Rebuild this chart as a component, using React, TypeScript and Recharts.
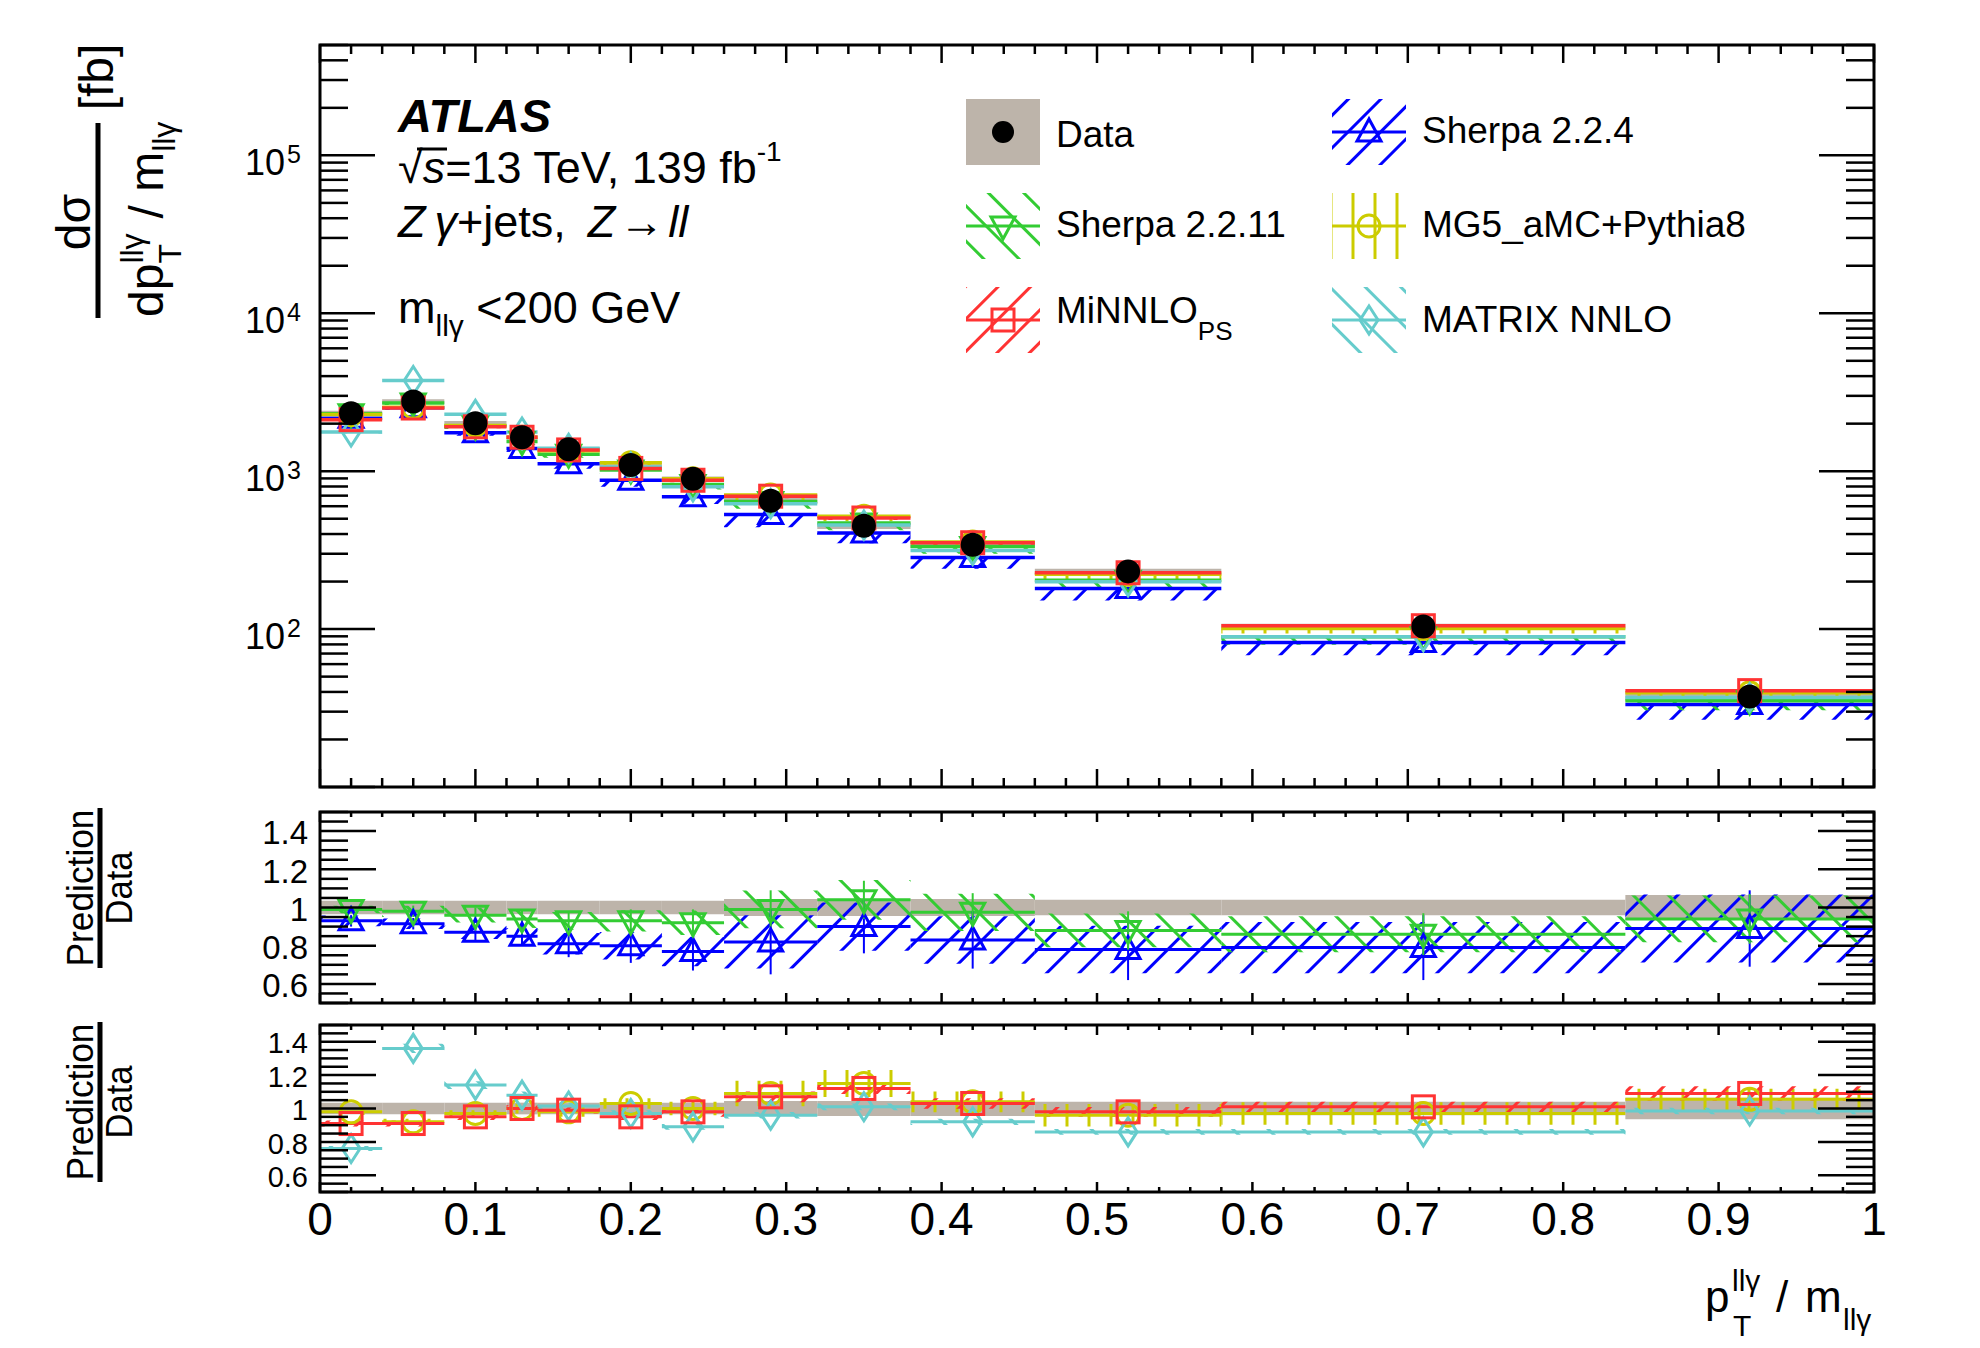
import React from 'react';
import { ComposedChart, XAxis, YAxis, Line, Scatter, ReferenceArea, ErrorBar } from 'recharts';

// ---------------- data ----------------
const binLow = [0, 0.04, 0.08, 0.12, 0.14, 0.18, 0.22, 0.26, 0.32, 0.38, 0.46, 0.58, 0.84];
const binHigh = [0.04, 0.08, 0.12, 0.14, 0.18, 0.22, 0.26, 0.32, 0.38, 0.46, 0.58, 0.84, 1.0];
const binCentre = [0.02, 0.06, 0.1, 0.13, 0.16, 0.2, 0.24, 0.29, 0.35, 0.42, 0.52, 0.71, 0.92];

const dataXsec = [2330, 2760, 2010, 1640, 1377, 1096, 894, 649, 451, 342, 232, 104, 37.4];
const dataRelUnc = [0.035, 0.035, 0.035, 0.035, 0.035, 0.035, 0.035, 0.045, 0.045, 0.045, 0.04, 0.04, 0.065];

const ratioSherpa224 = [0.93, 0.915, 0.87, 0.85, 0.81, 0.8, 0.77, 0.82, 0.9, 0.83, 0.78, 0.79, 0.89];
const uncSherpa224 = [0.03, 0.03, 0.04, 0.05, 0.07, 0.09, 0.1, 0.17, 0.14, 0.15, 0.16, 0.17, 0.2];
const ratioSherpa2211 = [0.99, 0.98, 0.96, 0.94, 0.93, 0.93, 0.92, 0.99, 1.04, 0.975, 0.88, 0.86, 0.94];
const uncSherpa2211 = [0.02, 0.03, 0.04, 0.05, 0.05, 0.06, 0.07, 0.1, 0.1, 0.1, 0.1, 0.11, 0.13];
const ratioMG5 = [0.98, 0.92, 0.97, 1.0, 0.98, 1.03, 1.0, 1.09, 1.15, 1.04, 0.96, 0.97, 1.055];
const uncMG5 = [0.02, 0.02, 0.02, 0.03, 0.03, 0.03, 0.04, 0.07, 0.07, 0.06, 0.07, 0.07, 0.06];
const ratioMiNNLO = [0.91, 0.91, 0.95, 1.0, 0.99, 0.95, 0.98, 1.07, 1.12, 1.03, 0.98, 1.01, 1.09];
const uncMiNNLO = [0.02, 0.02, 0.02, 0.02, 0.02, 0.02, 0.03, 0.03, 0.03, 0.03, 0.03, 0.03, 0.04];
const ratioMatrix = [0.76, 1.36, 1.14, 1.08, 1.015, 0.97, 0.89, 0.96, 1.01, 0.92, 0.86, 0.86, 0.985];
const uncMatrix = [0.02, 0.02, 0.02, 0.02, 0.02, 0.02, 0.02, 0.02, 0.02, 0.02, 0.02, 0.02, 0.02];

// tick values and labels
const xTickValues = Array.from({ length: 51 }, (_, i) => Math.round(i * 2) / 100);
const xTickLabels: Record<string, string> = {
  '0.00': '0', '0.10': '0.1', '0.20': '0.2', '0.30': '0.3', '0.40': '0.4', '0.50': '0.5',
  '0.60': '0.6', '0.70': '0.7', '0.80': '0.8', '0.90': '0.9', '1.00': '1',
};
const logDecades = [10, 100, 1000, 10000, 100000];
const logTickValues = logDecades.flatMap((d) => [1, 2, 3, 4, 5, 6, 7, 8, 9].map((k) => d * k)).filter((v) => v <= 500000);
const logTickLabels: Record<string, string> = { '100': '2', '1000': '3', '10000': '4', '100000': '5' };
const ratioTickValues = Array.from({ length: 21 }, (_, i) => Math.round(50 + i * 5) / 100);
const ratioTickLabels: Record<string, string> = { '0.60': '0.6', '0.80': '0.8', '1.00': '1', '1.20': '1.2', '1.40': '1.4' };

// ---------------- style ----------------
const FONT = '"Liberation Sans", Arial, Helvetica, sans-serif';
const BLUE = '#0000ff';
const GREEN = '#33cc33';
const RED = '#ff3333';
const YELLOW = '#cccc00';
const CYAN = '#66cccc';
const GREY = '#bdb4aa';

const PL = 320; // plot left
const PR = 1874; // plot right
const PW = PR - PL;

type Series = { name: string; color: string; ratio: number[]; unc: number[]; pattern: string; marker: string };
const sherpa224: Series = { name: 'Sherpa 2.2.4', color: BLUE, ratio: ratioSherpa224, unc: uncSherpa224, pattern: 'hatchBlue', marker: 'triUp' };
const sherpa2211: Series = { name: 'Sherpa 2.2.11', color: GREEN, ratio: ratioSherpa2211, unc: uncSherpa2211, pattern: 'hatchGreen', marker: 'triDown' };
const mg5: Series = { name: 'MG5_aMC+Pythia8', color: YELLOW, ratio: ratioMG5, unc: uncMG5, pattern: 'hatchYellow', marker: 'circle' };
const minnlo: Series = { name: 'MiNNLO', color: RED, ratio: ratioMiNNLO, unc: uncMiNNLO, pattern: 'hatchRed', marker: 'square' };
const matrix: Series = { name: 'MATRIX NNLO', color: CYAN, ratio: ratioMatrix, unc: uncMatrix, pattern: 'hatchCyan', marker: 'diamond' };

function renderMarker(kind: string, cx: number, cy: number, color: string) {
  const sw = 3;
  if (cx == null || cy == null || isNaN(cx) || isNaN(cy)) return <g />;
  switch (kind) {
    case 'triUp':
      return <polygon points={`${cx},${cy - 13} ${cx - 12},${cy + 9} ${cx + 12},${cy + 9}`} fill="none" stroke={color} strokeWidth={sw} />;
    case 'triDown':
      return <polygon points={`${cx},${cy + 13} ${cx - 12},${cy - 9} ${cx + 12},${cy - 9}`} fill="none" stroke={color} strokeWidth={sw} />;
    case 'square':
      return <rect x={cx - 11} y={cy - 11} width={22} height={22} fill="none" stroke={color} strokeWidth={sw} />;
    case 'circle':
      return <circle cx={cx} cy={cy} r={11} fill="none" stroke={color} strokeWidth={sw} />;
    case 'diamond':
      return <polygon points={`${cx},${cy - 14} ${cx + 9},${cy} ${cx},${cy + 14} ${cx - 9},${cy}`} fill="none" stroke={color} strokeWidth={sw} />;
    default:
      return <circle cx={cx} cy={cy} r={12} fill="#000" />;
  }
}

// ---------------- helpers building tables from the arrays ----------------
const stepData = (vals: number[]) =>
  vals.flatMap((v, i) => [
    { x: binLow[i], y: v },
    { x: binHigh[i], y: v },
    { x: binHigh[i], y: null as number | null },
  ]);
const pointData = (vals: number[], errs?: number[]) => vals.map((v, i) => ({ x: binCentre[i], y: v, e: errs ? errs[i] : 0 }));
const mainVals = (r: number[]) => dataXsec.map((d, i) => d * r[i]);
const ones = dataXsec.map(() => 1);

// ---------------- ticks ----------------
const makeXTick = (top: number, bottom: number, maj: number, min: number, labels: boolean) => (p: any) => {
  const v = p.payload.value as number;
  const key = v.toFixed(2);
  const lab = xTickLabels[key];
  const len = lab !== undefined ? maj : min;
  const x = p.x;
  return (
    <g>
      <line x1={x} x2={x} y1={bottom} y2={bottom - len} stroke="#000" strokeWidth={2.5} />
      <line x1={x} x2={x} y1={top} y2={top + len} stroke="#000" strokeWidth={2.5} />
      {labels && lab !== undefined && (
        <text x={x} y={bottom + 43} textAnchor="middle" fontSize={46} fontFamily={FONT} fill="#000">
          {lab}
        </text>
      )}
    </g>
  );
};

const mainYTick = (p: any) => {
  const v = p.payload.value as number;
  const y = p.y;
  const lg = Math.log10(v);
  const major = Math.abs(lg - Math.round(lg)) < 1e-9;
  const len = major ? 55 : 28;
  const exp = logTickLabels[String(v)];
  return (
    <g>
      <line x1={PL} x2={PL + len} y1={y} y2={y} stroke="#000" strokeWidth={2.5} />
      <line x1={PR} x2={PR - len} y1={y} y2={y} stroke="#000" strokeWidth={2.5} />
      {exp && (
        <text x={285} y={y + 20} textAnchor="end" fontSize={36} fontFamily={FONT} fill="#000">
          10
        </text>
      )}
      {exp && (
        <text x={287} y={y + 8} fontSize={25} fontFamily={FONT} fill="#000">
          {exp}
        </text>
      )}
    </g>
  );
};

const makeRatioYTick = (fontSize: number) => (p: any) => {
  const v = p.payload.value as number;
  const y = p.y;
  const lab = ratioTickLabels[v.toFixed(2)];
  const len = lab !== undefined ? 56 : 28;
  return (
    <g>
      <line x1={PL} x2={PL + len} y1={y} y2={y} stroke="#000" strokeWidth={2.5} />
      <line x1={PR} x2={PR - len} y1={y} y2={y} stroke="#000" strokeWidth={2.5} />
      {lab !== undefined && (
        <text x={308} y={y + fontSize * 0.4} textAnchor="end" fontSize={fontSize} fontFamily={FONT} fill="#000">
          {lab}
        </text>
      )}
    </g>
  );
};

// ---------------- series renderers ----------------
const bandAreas = (s: Series, centre: number[], lowerOnly: boolean, tag: string) =>
  centre.map((c, i) => (
    <ReferenceArea
      key={tag + s.pattern + i}
      x1={binLow[i]}
      x2={binHigh[i]}
      y1={c * (1 - s.unc[i])}
      y2={lowerOnly ? c : c * (1 + s.unc[i])}
      fill={`url(#${s.pattern})`}
      fillOpacity={1}
      stroke="none"
      ifOverflow="hidden"
    />
  ));

const greyAreas = (centre: number[], tag: string) =>
  centre.map((c, i) => (
    <ReferenceArea
      key={tag + 'grey' + i}
      x1={binLow[i]}
      x2={binHigh[i]}
      y1={c * (1 - dataRelUnc[i])}
      y2={c * (1 + dataRelUnc[i])}
      fill={GREY}
      fillOpacity={1}
      stroke="none"
      ifOverflow="hidden"
    />
  ));

const stepLine = (s: Series, vals: number[], tag: string, width: number) => (
  <Line
    key={tag + 'line' + s.pattern}
    data={stepData(vals)}
    dataKey="y"
    stroke={s.color}
    strokeWidth={width}
    dot={false}
    activeDot={false}
    connectNulls={false}
    isAnimationActive={false}
    type="linear"
  />
);

const markers = (s: Series, vals: number[], tag: string, errs?: number[]) => (
  <Scatter
    key={tag + 'mk' + s.pattern}
    data={pointData(vals, errs)}
    dataKey="y"
    isAnimationActive={false}
    shape={(p: any) => renderMarker(s.marker, p.cx, p.cy, s.color)}
  >
    {errs ? <ErrorBar dataKey="e" direction="y" width={0} stroke={s.color} strokeWidth={2} /> : null}
  </Scatter>
);

// ---------------- panels ----------------
function MainPanel() {
  const order = [sherpa224, sherpa2211, mg5, matrix, minnlo];
  return (
    <ComposedChart width={1980} height={800} margin={{ top: 45, right: 1980 - PR, bottom: 12, left: PL - 1 }}>
      <XAxis type="number" dataKey="x" domain={[0, 1]} allowDataOverflow ticks={xTickValues} interval={0} height={1}
        axisLine={false} tickLine={false} tickSize={0} tickMargin={0} tick={makeXTick(45, 787, 18, 9, false)} />
      <YAxis type="number" dataKey="y" scale="log" domain={[10, 500000]} allowDataOverflow ticks={logTickValues} interval={0}
        width={1} axisLine={false} tickLine={false} tickSize={0} tickMargin={0} tick={mainYTick} />
      {greyAreas(dataXsec, 'm')}
      {order.flatMap((s) => bandAreas(s, mainVals(s.ratio), true, 'm'))}
      {order.map((s) => stepLine(s, mainVals(s.ratio), 'm', 3.5))}
      {order.map((s) => markers(s, mainVals(s.ratio), 'm'))}
      <Scatter data={pointData(dataXsec)} dataKey="y" isAnimationActive={false}
        shape={(p: any) => renderMarker('dot', p.cx, p.cy, '#000')} />
    </ComposedChart>
  );
}

function RatioPanel({ height, top, bottomMargin, list, labels, errs, labelFont }: { height: number; top: number; bottomMargin: number; list: Series[]; labels: boolean; errs: boolean; labelFont: number }) {
  const plotBottom = height - bottomMargin;
  return (
    <ComposedChart width={1980} height={height} margin={{ top, right: 1980 - PR, bottom: bottomMargin - 1, left: PL - 1 }}>
      <XAxis type="number" dataKey="x" domain={[0, 1]} allowDataOverflow ticks={xTickValues} interval={0} height={1}
        axisLine={false} tickLine={false} tickSize={0} tickMargin={0} tick={makeXTick(top, plotBottom, 10, 5, labels)} />
      <YAxis type="number" dataKey="y" domain={[0.5, 1.5]} allowDataOverflow ticks={ratioTickValues} interval={0}
        width={1} axisLine={false} tickLine={false} tickSize={0} tickMargin={0} tick={makeRatioYTick(labelFont)} />
      {greyAreas(ones, 'r')}
      {list.flatMap((s) => bandAreas(s, s.ratio, false, 'r'))}
      {list.map((s) => stepLine(s, s.ratio, 'r', 3))}
      {list.map((s) => markers(s, s.ratio, 'r', errs ? s.unc : undefined))}
    </ComposedChart>
  );
}

function HatchDefs() {
  const mk = (id: string, color: string, angle: number, w: number) => (
    <pattern id={id} patternUnits="userSpaceOnUse" width={w} height={w} patternTransform={`rotate(${angle})`}>
      <line x1={w / 2} y1={0} x2={w / 2} y2={w} stroke={color} strokeWidth={3} />
    </pattern>
  );
  return (
    <svg width={0} height={0} style={{ position: 'absolute' }}>
      <defs>
        {mk('hatchBlue', BLUE, 45, 23)}
        {mk('hatchGreen', GREEN, -45, 25)}
        {mk('hatchRed', RED, 45, 23)}
        {mk('hatchCyan', CYAN, -45, 25)}
        {mk('hatchYellow', YELLOW, 0, 22)}
      </defs>
    </svg>
  );
}

function LegendSymbol({ x, y, s }: { x: number; y: number; s: Series }) {
  return (
    <g>
      <rect x={x} y={y} width={74} height={66} fill={`url(#${s.pattern})`} />
      <line x1={x} x2={x + 74} y1={y + 33} y2={y + 33} stroke={s.color} strokeWidth={3} />
      {renderMarker(s.marker, x + 37, y + 33, s.color)}
    </g>
  );
}

function Overlay() {
  return (
    <svg width={1980} height={1348} style={{ position: 'absolute', left: 0, top: 0, pointerEvents: 'none' }} fontFamily={FONT}>
      {/* frames */}
      <rect x={PL} y={45} width={PW} height={742} fill="none" stroke="#000" strokeWidth={3} />
      <rect x={PL} y={812} width={PW} height={191} fill="none" stroke="#000" strokeWidth={3} />
      <rect x={PL} y={1025} width={PW} height={167} fill="none" stroke="#000" strokeWidth={3} />

      {/* y-axis title of main panel */}
      <g transform="translate(0,222) rotate(-90)">
        <text x={0} y={90} textAnchor="middle" fontSize={48}>dσ</text>
        <line x1={-96} x2={99} y1={98} y2={98} stroke="#000" strokeWidth={5} />
        <text x={-95} y={163} fontSize={48}>
          dp
          <tspan fontSize={32} dy={-20}>llγ</tspan>
          <tspan fontSize={32} dx={-30} dy={38}>T</tspan>
          <tspan dx={12} dy={-18}> / m</tspan>
          <tspan fontSize={32} dy={12}>llγ</tspan>
        </text>
        <text x={145} y={113} textAnchor="middle" fontSize={48}>[fb]</text>
      </g>

      {/* ratio titles */}
      {[888, 1102].map((cy) => (
        <g key={cy} transform={`translate(0,${cy}) rotate(-90)`}>
          <text x={0} y={93} textAnchor="middle" fontSize={36} textLength={157} lengthAdjust="spacingAndGlyphs">Prediction</text>
          <line x1={-80} x2={80} y1={100} y2={100} stroke="#000" strokeWidth={5} />
          <text x={0} y={132} textAnchor="middle" fontSize={36} textLength={73} lengthAdjust="spacingAndGlyphs">Data</text>
        </g>
      ))}

      {/* x-axis title */}
      <text x={1705} y={1312} fontSize={44}>p</text>
      <text x={1732} y={1291} fontSize={30}>llγ</text>
      <text x={1733} y={1336} fontSize={30}>T</text>
      <text x={1776} y={1312} fontSize={44}>/</text>
      <text x={1805} y={1312} fontSize={44}>m</text>
      <text x={1843} y={1330} fontSize={30}>llγ</text>

      {/* ATLAS label */}
      <text x={398} y={132} fontSize={47} fontWeight="bold" fontStyle="italic">ATLAS</text>
      <text x={398} y={183} fontSize={45}>
        √<tspan fontStyle="italic">s</tspan>=13 TeV, 139 fb
        <tspan fontSize={28} dy={-22}>-1</tspan>
      </text>
      <line x1={417} x2={447} y1={149} y2={149} stroke="#000" strokeWidth={3} />
      <text x={398} y={237} fontSize={45}>
        <tspan fontStyle="italic">Z</tspan>
        <tspan fontStyle="italic" dx={9}>γ</tspan>+jets,
        <tspan fontStyle="italic" dx={22}>Z</tspan>
        <tspan dx={4}>→</tspan>
        <tspan fontStyle="italic" dx={4}>ll</tspan>
      </text>
      <text x={398} y={323} fontSize={45}>
        m<tspan fontSize={30} dy={13}>llγ</tspan>
        <tspan dy={-13}> &lt;200 GeV</tspan>
      </text>

      {/* legend */}
      <rect x={966} y={99} width={74} height={66} fill={GREY} />
      <circle cx={1003} cy={132} r={11} fill="#000" />
      <text x={1056} y={147} fontSize={37}>Data</text>

      <LegendSymbol x={1332} y={99} s={sherpa224} />
      <text x={1422} y={143} fontSize={37}>Sherpa 2.2.4</text>

      <LegendSymbol x={966} y={193} s={sherpa2211} />
      <text x={1056} y={237} fontSize={37}>Sherpa 2.2.11</text>

      <LegendSymbol x={1332} y={193} s={mg5} />
      <text x={1422} y={237} fontSize={37}>MG5_aMC+Pythia8</text>

      <LegendSymbol x={966} y={287} s={minnlo} />
      <text x={1056} y={323} fontSize={37}>
        MiNNLO<tspan fontSize={26} dy={17}>PS</tspan>
      </text>

      <LegendSymbol x={1332} y={287} s={matrix} />
      <text x={1422} y={332} fontSize={37}>MATRIX NNLO</text>
    </svg>
  );
}

export default function App() {
  return (
    <div style={{ position: 'absolute', left: 0, top: 0, width: 1980, height: 1348, background: '#fff', fontFamily: FONT }}>
      <HatchDefs />
      <div style={{ position: 'absolute', left: 0, top: 0 }}>
        <MainPanel />
      </div>
      <div style={{ position: 'absolute', left: 0, top: 800 }}>
        <RatioPanel height={215} top={12} bottomMargin={12} list={[sherpa224, sherpa2211]} labels={false} errs={true} labelFont={33} />
      </div>
      <div style={{ position: 'absolute', left: 0, top: 1010 }}>
        <RatioPanel height={338} top={15} bottomMargin={156} list={[mg5, matrix, minnlo]} labels={true} errs={false} labelFont={29} />
      </div>
      <Overlay />
    </div>
  );
}
